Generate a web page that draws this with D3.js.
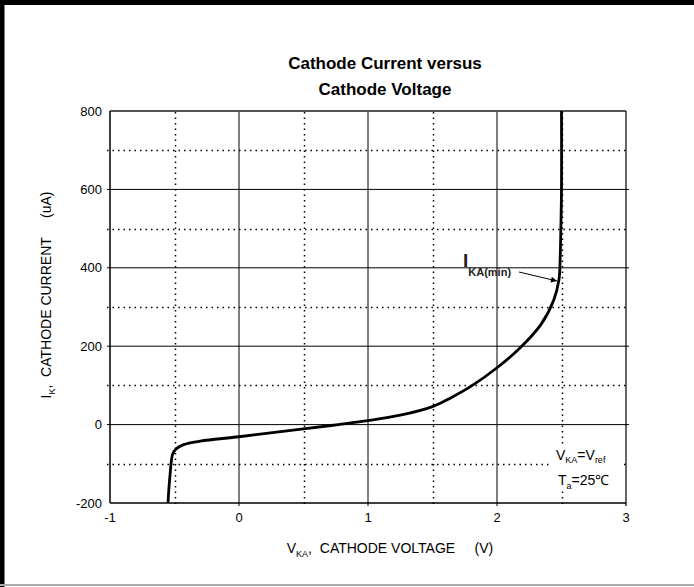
<!DOCTYPE html>
<html>
<head>
<meta charset="utf-8">
<script src="https://cdn.jsdelivr.net/npm/d3@7"></script>
<style>
  body { margin: 0; background: #fff; }
  svg { display: block; }
  text { font-family: "Liberation Sans", Arial, sans-serif; }
</style>
</head>
<body>
<svg id="chart" width="694" height="587"></svg>
<script>
// cathode voltage (V) vs cathode current (uA)
const voltage = [-0.55, -0.545, -0.535, -0.525, -0.515, -0.49, -0.43, -0.3, 0, 0.5, 0.77, 1.0, 1.25, 1.5, 1.64, 1.8, 2.0, 2.18, 2.34, 2.44, 2.48, 2.49, 2.495, 2.5, 2.5];
const current = [-200, -170, -130, -95, -76, -63, -51, -42, -31, -11, 0, 10, 24, 46, 68, 98, 145, 196, 255, 318, 369, 428, 500, 600, 800];

const xMajor = [0, 1, 2];
const xMinor = [-0.5, 0.5, 1.5, 2.5];
const xLabels = [-1, 0, 1, 2, 3];
const yMajor = [0, 200, 400, 600];
const yMinor = [-100, 100, 300, 500, 700];
const yLabels = [-200, 0, 200, 400, 600, 800];

const svg = d3.select("#chart");
const margin = {top: 111, left: 110, right: 68, bottom: 84};
const width = 694 - margin.left - margin.right;
const height = 587 - margin.top - margin.bottom;

const x = d3.scaleLinear().domain([-1, 3]).range([0, width]);
const y = d3.scaleLinear().domain([-200, 800]).range([height, 0]);

// outer frame of the picture
svg.append("path").attr("d", "M2,587V2.5H694").attr("fill", "none")
  .attr("stroke", "#000").attr("stroke-width", 5);
svg.append("path").attr("d", "M0,585H694").attr("fill", "none")
  .attr("stroke", "#aaa").attr("stroke-width", 2);

const g = svg.append("g").attr("transform", "translate(" + margin.left + "," + margin.top + ")");

// dotted half grid
g.selectAll(".vminor").data(xMinor).enter().append("line")
  .attr("x1", d => Math.round(x(d)) + 0.5).attr("x2", d => Math.round(x(d)) + 0.5)
  .attr("y1", 1).attr("y2", height + 3)
  .attr("stroke", "#000").attr("stroke-width", 1.5).attr("stroke-dasharray", "1.5,4");
g.selectAll(".hminor").data(yMinor).enter().append("line")
  .attr("x1", -3).attr("x2", width + 3)
  .attr("y1", d => Math.round(y(d)) + 0.5).attr("y2", d => Math.round(y(d)) + 0.5)
  .attr("stroke", "#000").attr("stroke-width", 1.5).attr("stroke-dasharray", "1.5,4");

// solid major grid
g.selectAll(".vmajor").data(xMajor).enter().append("line")
  .attr("x1", d => x(d)).attr("x2", d => x(d))
  .attr("y1", 0).attr("y2", height + 3)
  .attr("stroke", "#000").attr("stroke-width", 1);
g.selectAll(".hmajor").data(yMajor).enter().append("line")
  .attr("x1", -3).attr("x2", width + 3)
  .attr("y1", d => y(d)).attr("y2", d => y(d))
  .attr("stroke", "#000").attr("stroke-width", 1);

// plot frame
g.append("line").attr("x1", 0).attr("x2", width).attr("y1", 0).attr("y2", 0)
  .attr("stroke", "#555").attr("stroke-width", 2);
g.append("line").attr("x1", 0).attr("x2", width).attr("y1", height).attr("y2", height)
  .attr("stroke", "#000").attr("stroke-width", 1.5);
g.append("line").attr("x1", 0).attr("x2", 0).attr("y1", 0).attr("y2", height)
  .attr("stroke", "#000").attr("stroke-width", 1.5);
g.append("line").attr("x1", width).attr("x2", width).attr("y1", 0).attr("y2", height + 3)
  .attr("stroke", "#000").attr("stroke-width", 1.2);

// tick labels
g.selectAll(".xl").data(xLabels).enter().append("text")
  .attr("x", d => x(d)).attr("y", height + 19)
  .attr("text-anchor", "middle").attr("font-size", 13).text(d => d);
g.selectAll(".yl").data(yLabels).enter().append("text")
  .attr("x", -8).attr("y", d => y(d) + 4.5)
  .attr("text-anchor", "end").attr("font-size", 13).text(d => d);

// the curve
const line = d3.line()
  .x((d, i) => x(voltage[i]))
  .y(d => y(d))
  .curve(d3.curveCatmullRom.alpha(0.5));
g.append("path").datum(current)
  .attr("d", line)
  .attr("fill", "none").attr("stroke", "#000").attr("stroke-width", 2.8)
  .attr("stroke-linejoin", "round");

// I_KA(min) annotation
svg.append("defs").append("marker")
  .attr("id", "arr").attr("viewBox", "0 0 10 10").attr("refX", 10).attr("refY", 5)
  .attr("markerWidth", 9).attr("markerHeight", 6).attr("orient", "auto")
  .append("path").attr("d", "M0,0L10,5L0,10z").attr("fill", "#000");
const ann = svg.append("text").attr("x", 463).attr("y", 267).attr("font-weight", "bold").attr("fill", "#222");
ann.append("tspan").attr("font-size", 19).text("I");
ann.append("tspan").attr("font-size", 11).attr("dy", 9).text("KA(min)");
svg.append("line").attr("x1", 519).attr("y1", 272).attr("x2", 557).attr("y2", 281)
  .attr("stroke", "#000").attr("stroke-width", 1).attr("marker-end", "url(#arr)");

// conditions, on a white patch over the grid
svg.append("rect").attr("x", 552).attr("y", 444).attr("width", 70).attr("height", 46).attr("fill", "#fff");
const c1 = svg.append("text").attr("x", 556).attr("y", 460).attr("font-size", 14);
c1.append("tspan").text("V");
c1.append("tspan").attr("font-size", 9).attr("dy", 3).text("KA");
c1.append("tspan").attr("dy", -3).text("=V");
c1.append("tspan").attr("font-size", 9).attr("dy", 3).text("ref");
const c2 = svg.append("text").attr("x", 558).attr("y", 485).attr("font-size", 14);
c2.append("tspan").text("T");
c2.append("tspan").attr("font-size", 9).attr("dy", 4).text("a");
c2.append("tspan").attr("dy", -4).text("=25\u2103");

// title
svg.append("text").attr("x", 385).attr("y", 69).attr("text-anchor", "middle")
  .attr("font-size", 17).attr("font-weight", "bold").text("Cathode Current versus");
svg.append("text").attr("x", 385).attr("y", 95).attr("text-anchor", "middle")
  .attr("font-size", 17).attr("font-weight", "bold").text("Cathode Voltage");

// axis titles
const xt = svg.append("text").attr("x", 390).attr("y", 553).attr("text-anchor", "middle")
  .attr("font-size", 14).style("white-space", "pre");
xt.append("tspan").text("V");
xt.append("tspan").attr("font-size", 9).attr("dy", 4).text("KA");
xt.append("tspan").attr("dy", -4).text(",  CATHODE VOLTAGE     (V)");

const yt = svg.append("text").attr("transform", "translate(51,295) rotate(-90)")
  .attr("text-anchor", "middle").attr("font-size", 14).style("white-space", "pre");
yt.append("tspan").text("I");
yt.append("tspan").attr("font-size", 9).attr("dy", 4).text("K");
yt.append("tspan").attr("dy", -4).text(",  CATHODE CURRENT     (uA)");
</script>
</body>
</html>
